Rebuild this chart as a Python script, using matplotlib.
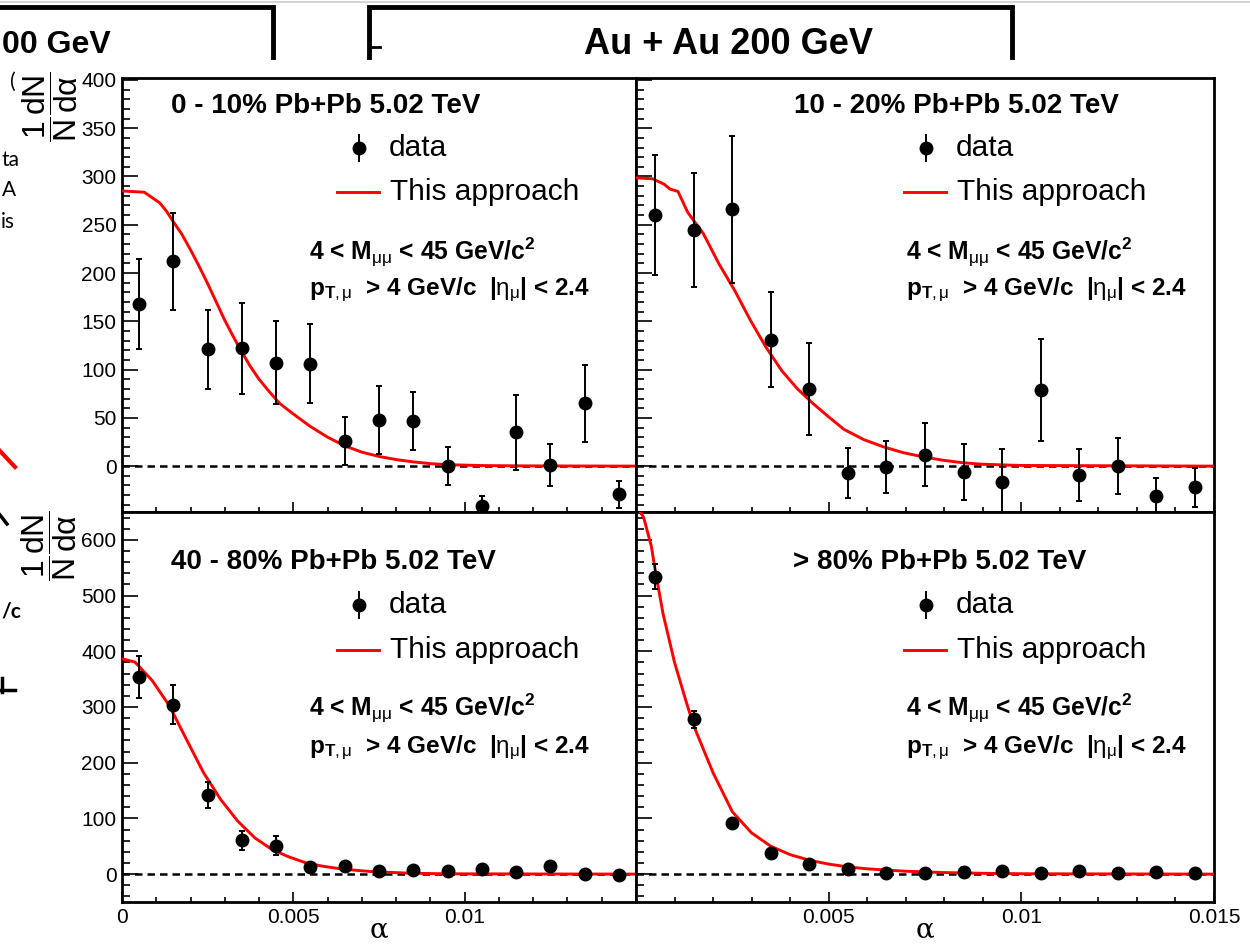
import matplotlib
matplotlib.use('Agg')
import matplotlib.pyplot as plt
from matplotlib.lines import Line2D
from matplotlib.ticker import MultipleLocator, FuncFormatter

plt.rcParams['font.family'] = ['Liberation Sans', 'DejaVu Sans']
plt.rcParams['mathtext.fontset'] = 'custom'
plt.rcParams['mathtext.rm'] = 'Liberation Sans'
plt.rcParams['mathtext.it'] = 'Liberation Sans'
plt.rcParams['mathtext.bf'] = 'Liberation Sans:bold'

# bin centres in alpha
alpha = [0.0005, 0.0015, 0.0025, 0.0035, 0.0045, 0.0055, 0.0065, 0.0075,
         0.0085, 0.0095, 0.0105, 0.0115, 0.0125, 0.0135, 0.0145]

# data points (value, error) per centrality class
y_0_10 = [168, 212, 121, 122, 107, 106, 26, 48, 47, 0, -41, 35, 1, 65, -29]
e_0_10 = [47, 50, 41, 47, 43, 41, 25, 35, 30, 20, 10, 39, 22, 40, 14]
y_10_20 = [260, 245, 266, 131, 80, -7, -1, 12, -6, -16, 79, -9, 0, -31, -22]
e_10_20 = [62, 59, 76, 49, 48, 26, 27, 33, 29, 34, 53, 27, 29, 19, 20]
y_40_80 = [354, 304, 142, 61, 51, 12, 14, 6, 7, 5, 9, 4, 15, 0, -1]
e_40_80 = [38, 35, 23, 17, 17, 7, 6, 5, 5, 5, 6, 5, 6, 5, 5]
y_80 = [534, 278, 91, 38, 19, 9, 2, 2, 4, 5, 2, 5, 2, 3, 2]
e_80 = [23, 15, 5, 4, 4, 3, 3, 3, 8, 8, 3, 4, 3, 4, 3]

# model curves ("This approach")
cx_0_10 = [0, 0.0001, 0.00065, 0.0011, 0.0013, 0.0015, 0.00175, 0.002, 0.00225,
           0.0025, 0.00275, 0.003, 0.00325, 0.0035, 0.00375, 0.004, 0.0043,
           0.0046, 0.005, 0.0055, 0.006, 0.0065, 0.007, 0.0075, 0.008, 0.0085,
           0.009, 0.0095, 0.0105, 0.0115, 0.015]
cy_0_10 = [285, 284.8, 283.7, 272.7, 264, 253, 240, 224, 207, 189, 170, 151,
           134, 118, 103, 90, 77, 65, 54, 41, 30, 21, 14.5, 10, 6.8, 4.4,
           2.6, 1.5, 0.6, 0.3, 0]
cx_10_20 = [0, 0.00043, 0.00073, 0.00088, 0.00109, 0.00134, 0.00175, 0.00215,
            0.00256, 0.00297, 0.00337, 0.00378, 0.00419, 0.00459, 0.005, 0.0054,
            0.00591, 0.00642, 0.00693, 0.00744, 0.00795, 0.00846, 0.00896, 0.00998,
            0.015]
cy_10_20 = [298.6, 297.6, 292, 287, 284.5, 263, 240.7, 209.7, 182, 151, 123.4, 99,
            80, 65, 51, 38, 27.5, 20, 14, 9.7, 6.2, 3.6, 2, 0.7, 0]
cx_40_80 = [0, 0.00038, 0.00088, 0.00138, 0.00188, 0.00238, 0.00288, 0.00338,
            0.00388, 0.00438, 0.00488, 0.00538, 0.00588, 0.00638, 0.00688, 0.00738,
            0.00838, 0.00938, 0.015]
cy_40_80 = [386.6, 380.6, 347.6, 302.5, 242, 182, 134, 95, 65, 44, 30.7, 20, 14,
            9.6, 6.6, 4.2, 1.8, 0.6, 0]
cx_80 = [0, 0.0002, 0.0004, 0.0005, 0.0007, 0.001, 0.0013, 0.0015, 0.002, 0.0025,
         0.003, 0.0035, 0.004, 0.0045, 0.005, 0.0055, 0.006, 0.007, 0.008, 0.009,
         0.01, 0.015]
cy_80 = [663, 640, 588, 545, 468, 380, 310, 266, 182, 112, 74, 50, 35, 25, 18, 13,
         9.5, 5.2, 2.8, 1.5, 0.7, 0]

titles = ['0 - 10% Pb+Pb 5.02 TeV', '10 - 20% Pb+Pb 5.02 TeV',
          '40 - 80% Pb+Pb 5.02 TeV', '> 80% Pb+Pb 5.02 TeV']

W, H = 1250, 944
fig = plt.figure(figsize=(W / 100, H / 100), dpi=100)


def fx(x):
    return x / W


def fy(y):
    return 1 - y / H


def tick_fmt(hide):
    def f(v, pos):
        if hide is not None and abs(v - hide) < 1e-9:
            return ''
        if abs(v) < 1e-12:
            return '0'
        return '%g' % v
    return FuncFormatter(f)


# panel layout in pixels: left, top, right, bottom
boxes = [(122, 78, 636, 512), (636, 78, 1214, 512),
         (122, 512, 636, 902), (636, 512, 1214, 902)]
ylims = [(-47.5, 402), (-47.5, 402), (-50, 650), (-50, 650)]
points = [(y_0_10, e_0_10), (y_10_20, e_10_20), (y_40_80, e_40_80), (y_80, e_80)]
curves = [(cx_0_10, cy_0_10), (cx_10_20, cy_10_20), (cx_40_80, cy_40_80), (cx_80, cy_80)]

for i in range(4):
    l, t, r, b = boxes[i]
    ax = fig.add_axes([fx(l), fy(b), (r - l) / W, (b - t) / H])
    ax.set_xlim(0, 0.015)
    ax.set_ylim(*ylims[i])
    ax.axhline(0, color='black', lw=1.8, ls=(0, (3, 2)), zorder=2)
    ax.plot(curves[i][0], curves[i][1], color='#ff0000', lw=2.1, zorder=3)
    ax.errorbar(alpha, points[i][0], yerr=points[i][1], fmt='o', color='black',
                ms=9, elinewidth=1.4, capsize=2, capthick=1.4, zorder=4)
    for s in ax.spines.values():
        s.set_linewidth(2)
    ax.xaxis.set_major_locator(MultipleLocator(0.005))
    ax.xaxis.set_minor_locator(MultipleLocator(0.001))
    if i < 2:
        ax.yaxis.set_major_locator(MultipleLocator(50))
        ax.yaxis.set_minor_locator(MultipleLocator(10))
    else:
        ax.yaxis.set_major_locator(MultipleLocator(100))
        ax.yaxis.set_minor_locator(MultipleLocator(20))
    ax.tick_params(which='both', direction='in', top=False, right=False,
                   width=1.2, labelsize=15, pad=4)
    ax.tick_params(axis='y', which='major', length=11.5)
    ax.tick_params(axis='y', which='minor', length=5.8)
    ax.tick_params(axis='x', which='major', length=7.5)
    ax.tick_params(axis='x', which='minor', length=3.7)
    ax.yaxis.set_major_formatter(tick_fmt(None))
    ax.tick_params(labelleft=(i % 2 == 0), labelbottom=(i >= 2))
    ax.xaxis.set_major_formatter(tick_fmt(0.015 if i == 2 else 0.0))

# panel annotations (pixel positions)
text_left = [171, 794, 171, 793]
leg_x = [359, 926, 359, 926]
info_x = [309, 906, 309, 906]
row_y = [(106, 148, 192, 252, 290), (106, 148, 192, 252, 290),
         (562, 605, 650, 708, 748), (562, 605, 650, 708, 748)]
for i in range(4):
    ty, dy, ly, my, py = row_y[i]
    fig.text(fx(text_left[i]), fy(ty), titles[i], fontsize=20, fontweight='bold',
             ha='left', va='center')
    lx = leg_x[i]
    fig.add_artist(Line2D([fx(lx)], [fy(dy)], marker='o', ms=9, color='black',
                          transform=fig.transFigure))
    fig.add_artist(Line2D([fx(lx), fx(lx)], [fy(dy - 13), fy(dy + 13)], lw=1.4,
                          color='black', transform=fig.transFigure))
    fig.text(fx(lx + 30), fy(dy), 'data', fontsize=21.5, ha='left', va='center')
    fig.add_artist(Line2D([fx(lx - 22), fx(lx + 20)], [fy(ly), fy(ly)], lw=2.1,
                          color='#ff0000', transform=fig.transFigure))
    fig.text(fx(lx + 31), fy(ly), 'This approach', fontsize=21.5, ha='left', va='center')
    fig.text(fx(info_x[i]), fy(my), r'4 < M$_{\mu\mu}$ < 45 GeV/c$^{\mathbf{2}}$',
             fontsize=17.7, fontweight='bold', ha='left', va='center')
    fig.text(fx(info_x[i]), fy(py), r'p$_{\mathbf{T},\mu}$  > 4 GeV/c  |$\eta_{\mu}$| < 2.4',
             fontsize=17.5, fontweight='bold', ha='left', va='center')

# axis titles
ylab = r'$\dfrac{1}{N}\dfrac{dN}{d\alpha}$'
fig.text(fx(50), fy(107), ylab, rotation=90, fontsize=23, ha='center', va='center')
fig.text(fx(49), fy(546), ylab, rotation=90, fontsize=23, ha='center', va='center')
for xc in (379, 925):
    fig.text(fx(xc), fy(930), 'α', fontsize=20, family='DejaVu Serif',
             ha='center', va='center')

# remains of the slide behind the figure
fig.add_artist(Line2D([0, 1], [fy(2), fy(2)], lw=1.2, color='#cccccc',
                      transform=fig.transFigure))
fig.add_artist(Line2D([0, fx(273), fx(273)], [fy(7), fy(7), fy(57)], lw=3.5,
                      color='black', solid_joinstyle='miter', transform=fig.transFigure))
fig.add_artist(Line2D([fx(369), fx(369), fx(1012), fx(1012)],
                      [fy(57), fy(7), fy(7), fy(57)], lw=3.5, color='black',
                      solid_joinstyle='miter', transform=fig.transFigure))
fig.add_artist(Line2D([fx(369), fx(380)], [fy(47), fy(47)], lw=2, color='black',
                      transform=fig.transFigure))
fig.text(fx(2), fy(45), '00 GeV', fontsize=23, fontweight='bold',
         ha='left', va='center')
fig.text(fx(728), fy(45), 'Au + Au 200 GeV', fontsize=26, fontweight='bold',
         ha='center', va='center')

frags = [('(', 10, 82, 'normal'), ('ta', 1, 160, 'normal'), ('A', 2, 190, 'normal'),
         ('is', 1, 222, 'normal'), ('/c', 1, 612, 'bold')]
for s, x, y, w in frags:
    fig.text(fx(x), fy(y), s, fontsize=15, family='Lato', fontweight=w,
             ha='left', va='center')
fig.add_artist(Line2D([0, fx(15)], [fy(451), fy(467)], lw=3, color='#ff0000',
                      transform=fig.transFigure))
fig.add_artist(Line2D([0, fx(7)], [fy(515), fy(524)], lw=2.5, color='black',
                      transform=fig.transFigure))
fig.add_artist(Line2D([fx(2), fx(2)], [fy(678), fy(692)], lw=2.5, color='black',
                      transform=fig.transFigure))
fig.add_artist(Line2D([0, fx(15)], [fy(690), fy(690)], lw=2.5, color='black',
                      transform=fig.transFigure))

fig.savefig('out.png', dpi=100)
